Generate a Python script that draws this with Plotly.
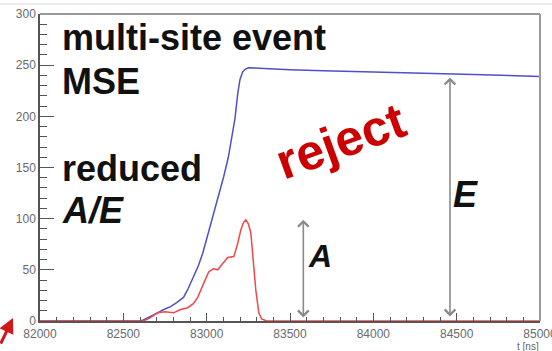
import plotly.graph_objects as go

# Time axis (ns) and pulse amplitudes for the multi-site event
t_energy = [82000, 82100, 82200, 82300, 82400, 82500, 82600, 82620, 82660, 82705,
            82740, 82783, 82820, 82861, 82890, 82922, 82950, 82976, 83000, 83024,
            83050, 83072, 83102, 83130, 83145, 83170, 83187, 83200, 83215, 83230,
            83250, 83300, 83400, 83500, 83700, 84000, 84300, 84600, 85000]
energy = [0, 0, 0, 0, 0, 0, 0, 1, 4, 8,
          11, 14, 18, 23, 32, 43, 54, 66, 80, 96,
          110, 123, 141, 160, 174, 198, 223, 236, 243, 246,
          247.5, 247, 246.5, 245.5, 244.5, 243, 242, 241, 239]

t_current = [82000, 82100, 82200, 82300, 82400, 82500, 82600, 82620, 82660, 82705,
             82750, 82801, 82840, 82886, 82920, 82946, 82980, 83012, 83040, 83066,
             83095, 83127, 83163, 83185, 83205, 83220, 83235, 83250, 83265, 83280,
             83295, 83313, 83330, 83360, 83400, 83500, 84000, 84500, 85000]
current = [0, 0, 0, 0, 0, 0, 0, 0, 3, 8,
           9, 8, 11, 13, 17, 23, 36, 48, 51, 50,
           56, 62, 63, 75, 89, 96, 99, 95, 86, 60,
           30, 8, 2, 0, 0, 0, 0, 0, 0]

x_ticks = [82000, 82500, 83000, 83500, 84000, 84500, 85000]
y_ticks = [0, 50, 100, 150, 200, 250, 300]

# Arrow markers for amplitude A and energy E
a_time, a_low, a_high = 83580, 2, 99
e_time, e_low, e_high = 84460, 3, 238

L, R, T, B = 40, 12, 14, 30
W, H = 552, 351
PW, PH = W - L - R, H - T - B


def px(x, y):
    return (x - L) / PW, (H - B - y) / PH


fig = go.Figure()
fig.add_trace(go.Scatter(x=t_energy, y=energy, mode="lines",
                         line=dict(color="#5050c8", width=1.5), showlegend=False))
fig.add_trace(go.Scatter(x=t_current, y=current, mode="lines",
                         line=dict(color="#ee4848", width=1.5), showlegend=False))

font_main = "Liberation Sans, Arial, sans-serif"
annotations = []


def label(text, x, y, size, color="#111111", angle=0, xanchor="left"):
    X, Y = px(x, y)
    annotations.append(dict(text=text, x=X, y=Y, xref="paper", yref="paper",
                            xanchor=xanchor, yanchor="middle", showarrow=False,
                            textangle=angle,
                            font=dict(family=font_main, size=size, color=color)))


label("<b>multi-site event</b>", 60, 37, 36)
label("<b>MSE</b>", 60, 81, 36)
label("<b>reduced</b>", 60, 168, 36)
label("<b><i>A/E</i></b>", 60, 210, 36)
label("<b>reject</b>", 341, 141, 50, color="#cc0000", angle=-20, xanchor="center")
label("<b><i>A</i></b>", 320, 256, 32, xanchor="center")
label("<b><i>E</i></b>", 465, 194, 36, xanchor="center")

for tx, lo, hi in [(a_time, a_low, a_high), (e_time, e_low, e_high)]:
    annotations.append(dict(x=tx, y=hi, ax=tx, ay=lo, xref="x", yref="y",
                            axref="x", ayref="y", text="", showarrow=True,
                            arrowhead=4, startarrowhead=4, arrowside="end+start",
                            arrowsize=1.3, startarrowsize=1.3, arrowwidth=1.6,
                            arrowcolor="#8a8a8a", standoff=0, startstandoff=0))

# axis title at the right end of the time axis
X, Y = px(541, 346)
annotations.append(dict(text="t [ns]", x=X, y=Y, xref="paper", yref="paper",
                        xanchor="right", yanchor="middle", showarrow=False,
                        font=dict(family=font_main, size=10, color="#666666")))

# small red pointer in the lower-left corner
X, Y = px(13, 318)
annotations.append(dict(x=X, y=Y, xref="paper", yref="paper", ax=-13, ay=27,
                        text="", showarrow=True, arrowhead=2, arrowsize=1,
                        arrowwidth=3, arrowcolor="#d01818", standoff=0))

shapes = [
    dict(type="line", xref="paper", yref="paper", x0=0, x1=1, y0=1, y1=1,
         line=dict(color="#9a9a9a", width=2)),
    dict(type="line", xref="paper", yref="paper", x0=1, x1=1, y0=0, y1=1,
         line=dict(color="#9a9a9a", width=2)),
    dict(type="line", xref="paper", yref="paper", x0=-0.1, x1=1.05,
         y0=(H - B - 4) / PH, y1=(H - B - 4) / PH,
         line=dict(color="#ececec", width=2)),
]

tick_font = dict(family=font_main, size=12, color="#6a6a6a")
fig.update_layout(
    width=W, height=H, margin=dict(l=L, r=R, t=T, b=B, autoexpand=False),
    paper_bgcolor="white", plot_bgcolor="white",
    annotations=annotations, shapes=shapes,
    xaxis=dict(range=[82000, 85000], tickvals=x_ticks,
               ticktext=[str(v) for v in x_ticks],
               ticks="inside", ticklen=8, tickwidth=1.2, tickcolor="#555555",
               minor=dict(dtick=100, ticks="inside", ticklen=4, tickcolor="#555555",
                          tickwidth=1.2),
               ticklabeloverflow="allow", ticklabelstandoff=1, automargin=False,
               showgrid=False, zeroline=False, showline=True,
               linecolor="#555555", linewidth=1.5, tickfont=tick_font),
    yaxis=dict(range=[0, 300], tickvals=y_ticks,
               ticktext=[str(v) for v in y_ticks],
               ticks="inside", ticklen=14, tickwidth=1.2, tickcolor="#555555",
               minor=dict(dtick=10, ticks="inside", ticklen=7, tickcolor="#555555",
                          tickwidth=1.2),
               automargin=False,
               showgrid=False, zeroline=False, showline=True,
               linecolor="#555555", linewidth=1.5, tickfont=tick_font),
)

fig.write_html("out.html")
